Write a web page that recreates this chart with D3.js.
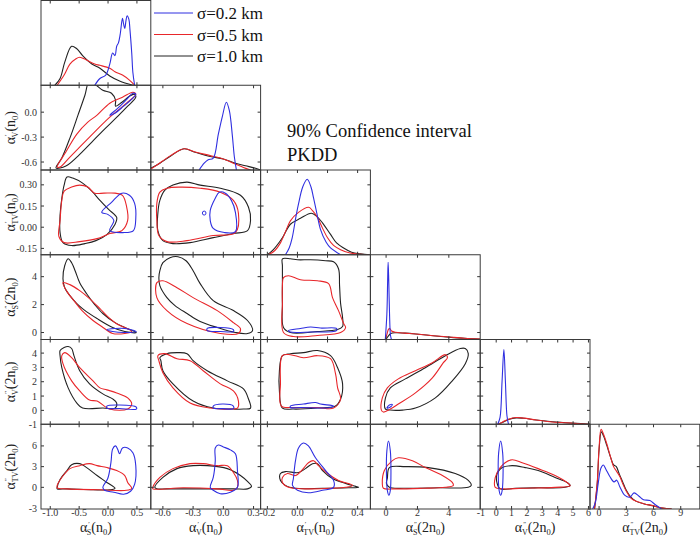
<!DOCTYPE html>
<html>
<head>
<meta charset="utf-8">
<script src="https://cdn.jsdelivr.net/npm/d3@7"></script>
<style>
  body { margin: 0; background: #fff; }
  svg { display: block; }
</style>
</head>
<body>
<script>
// parameters (column / row order of the corner plot)
var subs   = ["S", "V", "TV", "S", "V", "TV"];
var primes = ["\u2032", "\u2032", "\u2032", "\u2033", "\u2033", "\u2033"];
var units  = ["n", "n", "n", "2n", "2n", "2n"];

var domX = [[-1.16, 0.74], [-0.72, 0.37], [-0.245, 0.485], [-1, 6], [-1.04, 6.1], [-1, 11.1]];
var domY = [null, [-0.696, 0.324], [-0.195, 0.405], [-0.5, 5.57], [-0.97, 4.95], [-3.14, 9.14]];

var xTicks = [[-1.0, -0.5, 0.0, 0.5], [-0.6, -0.3, 0.0, 0.3], [-0.2, 0.0, 0.2, 0.4], [0, 2, 4], [-1, 0, 1, 2, 3, 4, 5, 6], [0, 3, 6, 9]];
var yTicks = [null, [-0.6, -0.3, 0.0], [-0.15, 0.0, 0.15, 0.30], [0, 2, 4], [-1, 0, 1, 2, 3, 4], [-3, 0, 3, 6]];
var xDec = [1, 1, 1, 0, 0, 0];
var yDec = [0, 1, 2, 0, 0, 0];

var seriesNames = ["\u03c3=0.2 km", "\u03c3=0.5 km", "\u03c3=1.0 km"];
var seriesColors = ["#2f2fe0", "#e8262a", "#222222"];

// marginal densities, [x, relative height], order: blue, red, black
var dens_S1 = [
  [[-0.23,0],[-0.14,0.08],[-0.04,0.12],[0.03,0.25],[0.08,0.38],[0.12,0.35],[0.15,0.46],[0.18,0.5],[0.21,0.6],[0.25,0.79],[0.27,0.72],[0.29,0.67],[0.31,0.76],[0.33,0.82],[0.36,0.78],[0.38,0.65],[0.41,0.38],[0.43,0.15],[0.46,0]],
  [[-0.88,0],[-0.76,0.12],[-0.66,0.25],[-0.56,0.31],[-0.49,0.33],[-0.38,0.3],[-0.23,0.25],[-0.14,0.235],[0.03,0.2],[0.12,0.16],[0.25,0.12],[0.37,0.06],[0.46,0]],
  [[-0.92,0],[-0.83,0.08],[-0.75,0.27],[-0.63,0.46],[-0.54,0.43],[-0.44,0.35],[-0.28,0.25],[-0.14,0.2],[0.03,0.11],[0.2,0.05],[0.43,0]]
];
var dens_V1 = [
  [[-0.24,0],[-0.19,0.08],[-0.15,0.12],[-0.1,0.14],[-0.05,0.42],[-0.01,0.63],[0.03,0.8],[0.06,0.7],[0.09,0.4],[0.11,0.15],[0.13,0]],
  [[-0.72,0.01],[-0.61,0.1],[-0.51,0.18],[-0.39,0.25],[-0.27,0.21],[-0.13,0.17],[0,0.13],[0.12,0.07],[0.2,0.03],[0.27,0]],
  [[-0.72,0.02],[-0.63,0.08],[-0.53,0.16],[-0.39,0.25],[-0.28,0.21],[-0.13,0.16],[0,0.13],[0.12,0.08],[0.22,0.05],[0.32,0.02],[0.37,0]]
];
var dens_TV1 = [
  [[-0.08,0],[-0.055,0.08],[-0.035,0.2],[-0.01,0.45],[0.007,0.6],[0.035,0.8],[0.065,0.89],[0.09,0.8],[0.107,0.67],[0.13,0.48],[0.153,0.3],[0.19,0.15],[0.22,0.08],[0.287,0]],
  [[-0.193,0],[-0.15,0.05],[-0.113,0.14],[-0.08,0.27],[-0.047,0.4],[0.007,0.5],[0.075,0.56],[0.1,0.52],[0.13,0.45],[0.165,0.32],[0.2,0.2],[0.24,0.11],[0.287,0.06],[0.35,0.02],[0.42,0.005],[0.48,0]],
  [[-0.2,0],[-0.16,0.06],[-0.1,0.2],[-0.047,0.36],[0.02,0.43],[0.093,0.49],[0.13,0.45],[0.165,0.38],[0.22,0.24],[0.26,0.14],[0.307,0.08],[0.36,0.03],[0.42,0.01],[0.48,0]]
];
var dens_S2 = [
  [[-0.05,0],[0.05,0.3],[0.1,0.7],[0.13,0.91],[0.17,0.7],[0.22,0.3],[0.28,0.05],[0.34,0]],
  [[-0.05,0],[0.05,0.06],[0.15,0.12],[0.22,0.13],[0.35,0.1],[0.6,0.085],[1.2,0.075],[1.9,0.065],[3,0.045],[4,0.03],[5,0.015],[6,0.005]],
  [[0,0],[0.1,0.03],[0.3,0.07],[0.6,0.08],[1.2,0.075],[1.9,0.065],[3,0.045],[4,0.028],[5,0.014],[6,0.005]]
];
var dens_V2 = [
  [[0.1,0],[0.25,0.08],[0.38,0.5],[0.5,0.88],[0.6,0.5],[0.7,0.1],[0.8,0]],
  [[0.1,0],[0.4,0.025],[0.8,0.06],[1.3,0.08],[1.8,0.072],[2.6,0.05],[3.5,0.03],[4.5,0.017],[5.5,0.006],[6.1,0]],
  [[0.1,0],[0.4,0.02],[0.8,0.055],[1.3,0.075],[1.8,0.07],[2.6,0.05],[3.5,0.032],[4.5,0.018],[5.5,0.007],[6.1,0]]
];
var dens_TV2 = [
  [[-0.7,0],[-0.4,0.08],[-0.1,0.3],[0.2,0.48],[0.47,0.52],[0.75,0.47],[1.2,0.38],[1.65,0.32],[1.95,0.34],[2.3,0.26],[2.85,0.16],[3.4,0.14],[3.85,0.19],[4.4,0.15],[4.9,0.11],[5.6,0.1],[6.2,0.05],[6.9,0]],
  [[-0.5,0],[-0.2,0.32],[0.0,0.72],[0.22,0.94],[0.5,0.88],[0.85,0.77],[1.3,0.6],[1.6,0.5],[1.9,0.45],[2.3,0.38],[2.6,0.3],[3.0,0.21],[3.5,0.13],[4.1,0.09],[5,0.06],[5.9,0.04],[7,0.01],[8,0]],
  [[-0.5,0],[-0.2,0.3],[0.0,0.7],[0.25,0.91],[0.5,0.86],[0.85,0.75],[1.3,0.6],[1.6,0.52],[1.9,0.5],[2.2,0.42],[2.6,0.32],[3.0,0.22],[3.5,0.14],[4.1,0.09],[5,0.06],[5.9,0.04],[7,0.01],[8,0]]
];

// 90% contours, [x, y] in parameter units, order: blue, red, black
var cont_S1_V1 = [
  [[0.03,-0.036],[0.17,0.048],[0.31,0.144],[0.43,0.228],[0.48,0.216],[0.41,0.156],[0.27,0.072],[0.12,-0.012]],
  [[-0.88,-0.66],[-0.73,-0.48],[-0.54,-0.264],[-0.35,-0.12],[-0.19,-0.036],[0.03,0.108],[0.25,0.18],[0.43,0.24],[0.48,0.216],[0.32,0.108],[0.03,-0.06],[-0.32,-0.3],[-0.66,-0.54],[-0.83,-0.66]],
  [[-0.9,-0.672],[-0.8,-0.552],[-0.66,-0.312],[-0.52,-0.036],[-0.4,0.204],[-0.33,0.36],[-0.23,0.336],[-0.09,0.264],[0.06,0.228],[0.13,0.144],[0.13,0.072],[0.24,0.12],[0.37,0.192],[0.46,0.216],[0.48,0.18],[0.34,0.072],[0.17,-0.048],[-0.06,-0.204],[-0.28,-0.36],[-0.52,-0.528],[-0.73,-0.648]]
];
var cont_S1_TV1 = [
  [[-0.11,0.105],[0.06,0.176],[0.24,0.241],[0.37,0.226],[0.46,0.169],[0.48,0.062],[0.44,-0.024],[0.27,-0.038],[0.03,-0.024],[0.1,0.048],[-0.005,0.091]],
  [[-0.76,0.255],[-0.63,0.284],[-0.49,0.298],[-0.35,0.284],[-0.23,0.241],[-0.07,0.241],[0.12,0.241],[0.25,0.226],[0.32,0.148],[0.34,0.048],[0.24,-0.024],[0.03,-0.045],[-0.19,-0.081],[-0.49,-0.102],[-0.76,-0.109],[-0.85,-0.066],[-0.83,0.048],[-0.8,0.19]],
  [[-0.71,0.355],[-0.61,0.348],[-0.44,0.312],[-0.28,0.255],[-0.14,0.19],[0.01,0.126],[0.15,0.069],[0.12,0.019],[-0.02,-0.052],[-0.21,-0.095],[-0.4,-0.116],[-0.63,-0.13],[-0.78,-0.109],[-0.83,-0.038],[-0.83,0.084],[-0.8,0.205],[-0.76,0.298]]
];
var cont_V1_TV1 = [
  [[-0.13,0.119],[-0.08,0.205],[-0.04,0.248],[0.02,0.241],[0.08,0.19],[0.12,0.105],[0.12,-0.031],[0.01,-0.038],[-0.1,-0.009],[-0.13,0.048]],
  [[-0.66,0.169],[-0.63,0.248],[-0.56,0.276],[-0.43,0.284],[-0.23,0.276],[-0.03,0.248],[0.1,0.19],[0.15,0.098],[0.12,-0.038],[-0.1,-0.059],[-0.36,-0.095],[-0.56,-0.102],[-0.64,-0.059],[-0.66,0.048]],
  [[-0.63,0.19],[-0.58,0.262],[-0.5,0.298],[-0.36,0.319],[-0.23,0.298],[-0.03,0.276],[0.17,0.226],[0.25,0.141],[0.27,0.048],[0.24,-0.024],[0.1,-0.045],[-0.1,-0.074],[-0.33,-0.109],[-0.5,-0.116],[-0.6,-0.095],[-0.65,-0.024],[-0.65,0.098]]
];
var dot_V1_TV1 = [[-0.19, 0.1]];
var cont_S1_S2 = [
  [[-0.02,0.21],[0.12,0.29],[0.29,0.29],[0.49,0.07],[0.29,0.0],[0.08,0.07]],
  [[-0.78,3.57],[-0.66,3.43],[-0.49,3.0],[-0.32,2.43],[-0.14,1.71],[-0.005,1.14],[0.17,0.57],[0.37,0.21],[0.41,0.07],[0.29,-0.07],[0.08,-0.07],[-0.11,0.43],[-0.26,0.86],[-0.45,1.57],[-0.59,2.28],[-0.71,2.93]],
  [[-0.69,5.28],[-0.63,5.0],[-0.57,4.43],[-0.49,3.57],[-0.37,2.78],[-0.23,2.0],[-0.09,1.36],[0.12,0.71],[0.29,0.36],[0.49,0.0],[0.29,0.07],[0.08,0.36],[-0.19,1.0],[-0.42,1.64],[-0.54,2.07],[-0.66,2.64],[-0.75,3.21],[-0.78,3.86],[-0.75,4.78]]
];
var cont_V1_S2 = [
  [[-0.16,0.29],[-0.03,0.36],[0.1,0.21],[0.1,0.07],[-0.03,0.07],[-0.16,0.14]],
  [[-0.66,3.57],[-0.6,3.71],[-0.46,3.21],[-0.3,2.5],[-0.06,1.57],[0.1,0.71],[0.17,0.28],[0.15,-0.07],[-0.03,-0.07],[-0.36,0.64],[-0.56,1.57],[-0.66,2.5]],
  [[-0.63,4.43],[-0.6,5.0],[-0.53,5.36],[-0.45,5.43],[-0.37,5.14],[-0.3,4.43],[-0.23,3.5],[-0.1,2.28],[0.1,1.57],[0.24,0.86],[0.29,0.14],[0.24,-0.07],[0.12,0.0],[-0.06,0.36],[-0.23,0.79],[-0.36,1.36],[-0.48,1.93],[-0.56,2.5],[-0.63,3.36],[-0.64,3.93]]
];
var cont_TV1_S2 = [
  [[-0.06,0.14],[0.02,0.29],[0.087,0.39],[0.153,0.32],[0.26,0.29],[0.26,0.14],[0.087,0.036],[-0.047,0.036]],
  [[-0.093,3.93],[-0.06,4.07],[0.02,3.78],[0.133,3.71],[0.207,3.5],[0.233,2.5],[0.273,1.57],[0.307,0.64],[0.32,0.36],[0.287,0.0],[0.133,-0.21],[-0.027,-0.29],[-0.093,0.0],[-0.1,2.07],[-0.1,3.36]],
  [[-0.1,5.28],[-0.047,5.28],[0.0,5.21],[0.087,5.21],[0.187,5.14],[0.24,5.07],[0.273,4.57],[0.28,3.36],[0.287,2.07],[0.3,1.07],[0.3,0.43],[0.267,0.21],[0.133,0.07],[-0.047,0.0],[-0.093,0.36],[-0.1,2.07],[-0.1,3.71],[-0.1,4.78]]
];
var cont_S1_V2 = [
  [[-0.02,0.3],[0.2,0.37],[0.49,0.23],[0.49,0.09],[0.2,0.13],[-0.02,0.16]],
  [[-0.8,3.82],[-0.75,4.03],[-0.63,3.68],[-0.49,2.98],[-0.26,2.06],[-0.14,1.57],[-0.02,1.43],[0.15,1.22],[0.34,0.87],[0.41,0.44],[0.34,0.09],[0.03,0.09],[-0.19,0.65],[-0.32,0.72],[-0.49,1.36],[-0.63,2.06],[-0.78,3.26]],
  [[-0.83,4.18],[-0.76,4.39],[-0.69,4.46],[-0.63,4.32],[-0.59,3.82],[-0.49,2.77],[-0.32,1.85],[-0.09,1.15],[0.08,0.8],[0.15,0.51],[0.12,0.16],[-0.09,0.16],[-0.44,0.16],[-0.54,0.51],[-0.69,1.57],[-0.8,2.98],[-0.83,3.82]]
];
var cont_V1_V2 = [
  [[-0.1,0.3],[-0.01,0.44],[0.1,0.3],[0.1,0.12],[-0.01,0.12],[-0.1,0.16]],
  [[-0.65,3.82],[-0.58,3.96],[-0.46,3.61],[-0.33,3.47],[-0.2,2.77],[-0.03,1.85],[0.1,1.36],[0.15,0.65],[0.14,0.16],[0.07,0.09],[-0.13,0.16],[-0.33,0.51],[-0.5,1.57],[-0.6,2.63],[-0.64,3.47]],
  [[-0.63,3.68],[-0.56,3.96],[-0.46,4.03],[-0.36,3.96],[-0.3,3.47],[-0.16,2.77],[0.04,2.06],[0.2,1.5],[0.25,0.79],[0.27,0.16],[0.2,0.09],[0.1,0.09],[-0.1,0.16],[-0.3,0.65],[-0.5,1.85],[-0.6,2.77],[-0.62,3.47]]
];
var cont_TV1_V2 = [
  [[-0.047,0.3],[0.04,0.44],[0.12,0.55],[0.153,0.44],[0.24,0.3],[0.22,0.2],[0.02,0.2],[-0.047,0.2]],
  [[-0.1,3.82],[-0.047,3.89],[0.04,3.68],[0.133,3.82],[0.22,3.61],[0.253,2.56],[0.267,1.57],[0.287,0.79],[0.24,0.16],[0.133,0.2],[-0.027,0.2],[-0.107,0.3],[-0.113,1.85]],
  [[-0.1,3.82],[-0.047,3.96],[0.04,4.03],[0.133,4.18],[0.22,3.82],[0.267,2.98],[0.3,1.85],[0.287,0.79],[0.253,0.3],[0.133,0.16],[-0.027,0.09],[-0.1,0.16],[-0.12,1.36],[-0.12,2.77]]
];
var cont_S2_V2 = [
  [[0.05,0.16],[0.21,0.37],[0.4,0.41],[0.27,0.23]],
  [[-0.3,0.02],[-0.24,0.87],[0.08,1.57],[0.78,2.2],[1.87,2.77],[2.95,3.33],[3.78,3.89],[3.91,3.68],[3.65,3.33],[2.95,2.27],[1.87,1.22],[0.78,0.44],[0.27,0.09],[-0.17,-0.12]],
  [[-0.04,0.09],[-0.04,0.87],[0.27,1.57],[1.23,2.2],[2.5,2.98],[3.78,3.82],[4.73,4.32],[5.05,4.32],[5.24,3.96],[5.05,3.26],[4.22,2.06],[3.14,0.87],[1.87,0.16],[1.04,0.02],[0.27,0.02]]
];
var cont_S1_TV2 = [
  [[-0.09,0.0],[-0.005,1.28],[0.05,3.57],[0.08,5.57],[0.13,6.0],[0.17,5.43],[0.2,4.86],[0.25,5.71],[0.34,5.71],[0.43,5.0],[0.48,3.14],[0.46,0.43],[0.39,-0.57],[0.27,-1.0],[0.1,-0.71],[-0.06,-0.43]],
  [[-0.88,0.28],[-0.8,1.43],[-0.66,2.71],[-0.49,3.14],[-0.32,3.43],[-0.19,3.14],[-0.02,2.86],[0.15,2.43],[0.29,1.71],[0.34,0.71],[0.41,-0.14],[0.32,-0.43],[-0.14,-0.36],[-0.71,-0.22],[-0.88,-0.07]],
  [[-0.88,0.0],[-0.83,1.14],[-0.71,2.43],[-0.63,3.28],[-0.49,3.43],[-0.37,2.86],[-0.19,1.71],[-0.02,0.71],[0.12,-0.14],[0.03,-0.36],[-0.26,-0.36],[-0.71,-0.22],[-0.88,-0.22]]
];
var cont_V1_TV2 = [
  [[-0.13,0.0],[-0.1,1.43],[-0.08,3.86],[-0.08,5.71],[-0.05,6.14],[0.0,5.86],[0.07,5.43],[0.12,4.86],[0.14,2.43],[0.14,0.0],[0.07,-0.71],[-0.03,-0.93],[-0.1,-0.43]],
  [[-0.7,0.0],[-0.63,1.43],[-0.5,2.71],[-0.33,3.43],[-0.2,3.43],[-0.06,3.14],[0.04,3.14],[0.1,2.14],[0.14,1.0],[0.14,0.0],[0.1,-0.43],[-0.06,-0.22],[-0.4,-0.07],[-0.7,-0.22]],
  [[-0.68,0.0],[-0.6,1.43],[-0.46,2.71],[-0.3,3.14],[-0.16,3.14],[0.04,2.71],[0.17,1.71],[0.25,0.71],[0.28,0.14],[0.24,-0.22],[0.1,-0.22],[-0.23,-0.22],[-0.56,-0.22],[-0.66,-0.22]]
];
var cont_TV1_TV2 = [
  [[-0.027,1.28],[-0.013,3.86],[0.007,5.71],[0.04,6.43],[0.073,6.0],[0.12,4.28],[0.187,2.43],[0.24,1.0],[0.24,0.0],[0.167,-0.43],[0.073,-0.79],[0.0,-0.43],[-0.033,0.28]],
  [[-0.1,1.43],[-0.067,2.0],[-0.013,1.71],[0.033,2.57],[0.073,3.57],[0.107,3.86],[0.14,3.14],[0.2,2.0],[0.273,1.0],[0.367,0.28],[0.32,0.0],[0.207,-0.14],[0.053,-0.22],[-0.06,0.0],[-0.1,0.71]],
  [[-0.113,2.0],[-0.08,2.28],[0.007,2.14],[0.053,2.71],[0.1,3.43],[0.133,3.43],[0.167,2.43],[0.233,1.28],[0.32,0.57],[0.387,0.14],[0.407,0.0],[0.34,-0.07],[0.167,-0.14],[-0.013,-0.14],[-0.08,0.28],[-0.113,1.0]]
];
var cont_S2_TV2 = [
  [[0.15,6.71],[0.27,5.28],[0.31,2.43],[0.27,-0.43],[0.18,-1.14],[0.08,-0.43],[0.02,2.43],[0.05,5.28]],
  [[-0.24,0.57],[-0.11,2.43],[0.4,3.86],[0.78,4.28],[1.68,3.86],[2.5,2.86],[3.59,1.71],[4.22,0.71],[4.29,0.28],[3.78,0.0],[2.31,-0.14],[0.59,-0.22],[-0.17,-0.14]],
  [[0.08,1.28],[0.21,2.86],[1.23,3.0],[2.69,2.86],[4.41,2.0],[5.24,1.0],[5.43,0.28],[5.24,0.0],[3.33,-0.07],[1.23,-0.14],[0.21,0.0],[0.02,0.57]]
];
var cont_V2_TV2 = [
  [[0.29,6.71],[0.42,5.0],[0.45,2.43],[0.39,-0.43],[0.29,-1.14],[0.19,-0.43],[0.13,2.43],[0.16,5.0]],
  [[-0.06,1.43],[0.26,2.86],[0.58,3.57],[1.04,4.0],[1.69,3.57],[2.73,2.71],[3.83,1.71],[4.68,0.57],[4.81,0.21],[3.83,0.0],[1.69,-0.14],[0.39,-0.22],[-0.06,0.0]],
  [[0.06,2.0],[0.39,2.86],[1.04,3.14],[1.88,2.86],[2.73,2.43],[3.83,1.43],[4.61,0.71],[4.81,0.28],[4.48,0.0],[2.73,-0.07],[1.23,-0.14],[0.26,-0.22],[0.06,0.57]]
];

var diagData = [dens_S1, dens_V1, dens_TV1, dens_S2, dens_V2, dens_TV2];
var pairData = {
  "0-1": cont_S1_V1, "0-2": cont_S1_TV1, "1-2": cont_V1_TV1,
  "0-3": cont_S1_S2, "1-3": cont_V1_S2, "2-3": cont_TV1_S2,
  "0-4": cont_S1_V2, "1-4": cont_V1_V2, "2-4": cont_TV1_V2, "3-4": cont_S2_V2,
  "0-5": cont_S1_TV2, "1-5": cont_V1_TV2, "2-5": cont_TV1_TV2, "3-5": cont_S2_TV2, "4-5": cont_V2_TV2
};

function cornerPlot() {
  var width = 700, height = 536;
  var x0 = 41, cw = 109.8, y0 = 0.5, ch = 84.75;
  var serif = "'Liberation Serif', 'Times New Roman', serif";
  var n = 6;

  var svg = d3.select("body").append("svg")
      .attr("width", width)
      .attr("height", height);
  var defs = svg.append("defs");

  function xScale(c) {
    return d3.scaleLinear().domain(domX[c]).range([x0 + c * cw, x0 + (c + 1) * cw]);
  }
  function yScale(r) {
    return d3.scaleLinear().domain(domY[r]).range([y0 + (r + 1) * ch, y0 + r * ch]);
  }

  var drawOrder = [2, 1, 0]; // black, red, blue on top

  function drawCell(r, c) {
    var x = xScale(c);
    var cellLeft = x0 + c * cw, cellTop = y0 + r * ch;
    var id = "clip" + r + c;
    defs.append("clipPath").attr("id", id)
      .append("rect").attr("x", cellLeft).attr("y", cellTop).attr("width", cw).attr("height", ch);

    var cell = svg.append("g");
    var plot = cell.append("g").attr("clip-path", "url(#" + id + ")");

    if (r === c) {
      var yd = d3.scaleLinear().domain([0, 1]).range([cellTop + ch, cellTop]);
      var dline = d3.line().curve(d3.curveCatmullRom.alpha(0.5))
          .x(function(d) { return x(d[0]); })
          .y(function(d) { return yd(d[1]); });
      drawOrder.forEach(function(s) {
        plot.append("path")
          .attr("d", dline(diagData[c][s]))
          .attr("fill", "none")
          .attr("stroke", seriesColors[s])
          .attr("stroke-width", 1.1);
      });
    } else {
      var y = yScale(r);
      var cline = d3.line().curve(d3.curveCatmullRomClosed.alpha(0.5))
          .x(function(d) { return x(d[0]); })
          .y(function(d) { return y(d[1]); });
      var sets = pairData[c + "-" + r];
      drawOrder.forEach(function(s) {
        plot.append("path")
          .attr("d", cline(sets[s]))
          .attr("fill", "none")
          .attr("stroke", seriesColors[s])
          .attr("stroke-width", 1.1);
      });
      if (c === 1 && r === 2) {
        plot.selectAll("ellipse.dot").data(dot_V1_TV1).enter().append("ellipse")
          .attr("cx", function(d) { return x(d[0]); })
          .attr("cy", function(d) { return y(d[1]); })
          .attr("rx", 1.8).attr("ry", 2)
          .attr("fill", "none").attr("stroke", seriesColors[0]).attr("stroke-width", 1);
      }
    }

    // inward ticks on all sides
    var tk = cell.append("g").attr("stroke", "#333").attr("stroke-width", 1);
    xTicks[c].forEach(function(t) {
      var px = x(t);
      if (px < cellLeft + 1 || px > cellLeft + cw - 1) return;
      tk.append("line").attr("x1", px).attr("x2", px).attr("y1", cellTop + ch).attr("y2", cellTop + ch - 3);
      tk.append("line").attr("x1", px).attr("x2", px).attr("y1", cellTop).attr("y2", cellTop + 3);
    });
    if (r > 0) {
      var yy = yScale(r);
      yTicks[r].forEach(function(t) {
        var py = yy(t);
        if (py < cellTop + 1 || py > cellTop + ch - 1) return;
        tk.append("line").attr("x1", cellLeft).attr("x2", cellLeft + 3).attr("y1", py).attr("y2", py);
        tk.append("line").attr("x1", cellLeft + cw).attr("x2", cellLeft + cw - 3).attr("y1", py).attr("y2", py);
      });
    }

    cell.append("rect")
      .attr("x", cellLeft).attr("y", cellTop)
      .attr("width", cw).attr("height", ch)
      .attr("fill", "none")
      .attr("stroke", "#3a3a3a")
      .attr("stroke-width", 1);
  }

  for (var r = 0; r < n; r++) {
    for (var c = 0; c <= r; c++) drawCell(r, c);
  }

  // tick labels
  xTicks.forEach(function(ticks, c) {
    var xs = xScale(c);
    svg.append("g").selectAll("text").data(ticks).enter().append("text")
      .attr("x", function(d) { return xs(d); })
      .attr("y", 516)
      .attr("text-anchor", "middle")
      .attr("font-family", serif)
      .attr("font-size", 10)
      .attr("fill", "#333")
      .text(function(d) { return d.toFixed(xDec[c]); });
  });
  yTicks.forEach(function(ticks, r) {
    if (!ticks) return;
    var ys = yScale(r);
    svg.append("g").selectAll("text").data(ticks).enter().append("text")
      .attr("x", 37)
      .attr("y", function(d) { return ys(d); })
      .attr("dy", "0.35em")
      .attr("text-anchor", "end")
      .attr("font-family", serif)
      .attr("font-size", 10)
      .attr("fill", "#333")
      .text(function(d) { return d.toFixed(yDec[r]); });
  });

  // axis titles like  alpha'_S (n_0)
  function axisTitle(g, p) {
    var t = g.append("text")
      .attr("font-family", serif)
      .attr("font-size", 14)
      .attr("fill", "#222")
      .attr("text-anchor", "middle");
    t.append("tspan").text("\u03b1");
    t.append("tspan").attr("font-size", 7).attr("dy", -6.5).attr("dx", 1).text(primes[p]);
    t.append("tspan").attr("font-size", 8).attr("dx", primes[p] === "\u2033" ? -4 : -3).attr("dy", 9.5).text(subs[p]);
    t.append("tspan").attr("dy", -3).text("(" + units[p]);
    t.append("tspan").attr("font-size", 8.5).attr("dy", 3).text("0");
    t.append("tspan").attr("dy", -3).text(")");
  }
  for (var c3 = 0; c3 < n; c3++) {
    axisTitle(svg.append("g").attr("transform", "translate(" + (x0 + (c3 + 0.5) * cw) + ",532)"), c3);
  }
  for (var r3 = 1; r3 < n; r3++) {
    axisTitle(svg.append("g").attr("transform", "translate(15," + (y0 + (r3 + 0.5) * ch) + ") rotate(-90)"), r3);
  }

  // legend
  var legend = svg.append("g").selectAll("g").data(seriesNames).enter().append("g")
    .attr("transform", function(d, i) { return "translate(154," + (13 + i * 21.5) + ")"; });
  legend.append("line")
    .attr("x1", 0).attr("x2", 39)
    .attr("stroke", function(d, i) { return seriesColors[i]; })
    .attr("stroke-width", 1);
  legend.append("text")
    .attr("x", 43).attr("y", 6)
    .attr("font-family", serif)
    .attr("font-size", 17)
    .attr("fill", "#111")
    .text(function(d) { return d; });

  // annotation
  svg.append("text").attr("x", 287).attr("y", 137)
    .attr("font-family", serif).attr("font-size", 18.5).attr("fill", "#111")
    .text("90% Confidence interval");
  svg.append("text").attr("x", 287).attr("y", 161)
    .attr("font-family", serif).attr("font-size", 18.5).attr("fill", "#111")
    .text("PKDD");
}

cornerPlot();
</script>
</body>
</html>
